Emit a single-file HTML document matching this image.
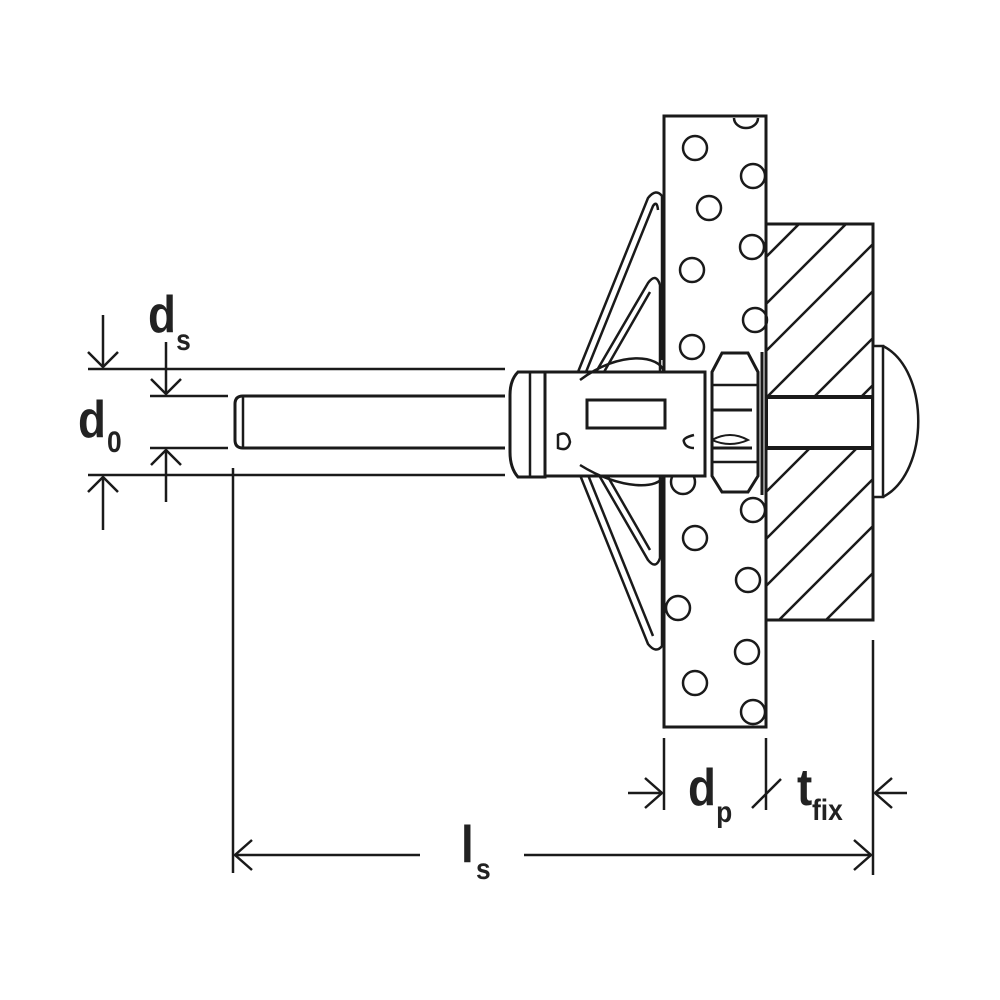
<!DOCTYPE html>
<html><head><style>
html,body{margin:0;padding:0;background:#fff;}
svg{display:block}
text{font-family:"Liberation Sans Narrow","Liberation Sans",sans-serif;font-weight:bold;fill:#222}
</style></head><body>
<svg width="1000" height="1000" viewBox="0 0 1000 1000" xmlns="http://www.w3.org/2000/svg">
<defs>
<clipPath id="hc"><rect x="766" y="224" width="107" height="396"/></clipPath>
</defs>
<g stroke="#1a1a1a" fill="none" stroke-width="3" stroke-linecap="butt">
<rect x="766" y="224" width="107" height="396" fill="#fff"/>
<g clip-path="url(#hc)" stroke-width="2.5">
<line x1="766" y1="116" x2="1000" y2="-118"/>
<line x1="766" y1="163" x2="1000" y2="-71"/>
<line x1="766" y1="210" x2="1000" y2="-24"/>
<line x1="766" y1="257" x2="1000" y2="23"/>
<line x1="766" y1="304" x2="1000" y2="70"/>
<line x1="766" y1="351" x2="1000" y2="117"/>
<line x1="766" y1="398" x2="1000" y2="164"/>
<line x1="766" y1="445" x2="1000" y2="211"/>
<line x1="766" y1="492" x2="1000" y2="258"/>
<line x1="766" y1="539" x2="1000" y2="305"/>
<line x1="766" y1="586" x2="1000" y2="352"/>
<line x1="766" y1="633" x2="1000" y2="399"/>
<line x1="766" y1="680" x2="1000" y2="446"/>
<line x1="766" y1="727" x2="1000" y2="493"/>
<line x1="766" y1="774" x2="1000" y2="540"/>
</g>
<rect x="766" y="397" width="107" height="51" fill="#fff" stroke-width="4"/>
<rect x="873" y="346" width="10" height="151" fill="#fff" stroke-width="2.5"/>
<path d="M883 346 C930 370 930 472 883 497" stroke-width="2.5"/>
<rect x="664" y="116" width="102" height="611" fill="#fff"/>
<g stroke-width="2.5">
<path d="M734 118 A12 10 0 0 0 758 118"/>
<circle cx="695" cy="148" r="12"/>
<circle cx="753" cy="176" r="12"/>
<circle cx="709" cy="208" r="12"/>
<circle cx="752" cy="247" r="12"/>
<circle cx="692" cy="270" r="12"/>
<circle cx="755" cy="320" r="12"/>
<circle cx="692" cy="347" r="12"/>
<circle cx="683" cy="482" r="12"/>
<circle cx="753" cy="510" r="12"/>
<circle cx="695" cy="538" r="12"/>
<circle cx="748" cy="580" r="12"/>
<circle cx="678" cy="608" r="12"/>
<circle cx="747" cy="652" r="12"/>
<circle cx="695" cy="683" r="12"/>
<circle cx="753" cy="712" r="12"/>
</g>
<g stroke-width="2.5">
<path d="M578 372 L648 198 Q656 188 662 196 L662 360"/>
<path d="M586 372 L653 206 Q657 200 658 210"/>
<path d="M596 372 L648 283 Q656 272 660 285 L660 372"/>
<path d="M604 372 L650 292"/>
<path d="M578 470 L648 644 Q656 654 662 646 L662 480"/>
<path d="M586 470 L653 636"/>
<path d="M596 470 L648 560 Q656 570 660 558 L660 470"/>
<path d="M604 470 L650 550"/>
</g>
<path d="M505 396 L243 396 Q235 396 235 404 L235 440 Q235 448 243 448 L505 448" fill="#fff" stroke-width="3"/>
<line x1="243" y1="396" x2="243" y2="448" stroke-width="2.5"/>
<rect x="545" y="372" width="160" height="104" fill="#fff" stroke-width="3"/>
<path d="M545 372 L518 372 Q510 380 510 395 L510 452 Q510 468 518 477 L545 477 Z" fill="#fff"/>
<line x1="530" y1="372" x2="530" y2="477" stroke-width="2.5"/>
<line x1="545" y1="372" x2="545" y2="477" stroke-width="2.5"/>
<path d="M580 380 C620 350 660 355 664 372 M580 465 C620 490 660 490 664 475" stroke-width="2.5"/>
<rect x="587" y="400" width="78" height="28" fill="#fff" stroke-width="3"/>
<path d="M558 435 Q568 430 570 442 Q568 452 558 448 Z" stroke-width="2.5"/>
<path d="M694 435 Q682 438 684 442 Q686 448 694 448" stroke-width="2.5"/>
<path d="M712 372 L722 353 L748 353 L758 372 L758 476 L748 492 L722 492 L712 476 Z" fill="#fff"/>
<line x1="712" y1="385" x2="758" y2="385" stroke-width="2.5"/>
<line x1="712" y1="462" x2="758" y2="462" stroke-width="2.5"/>
<path d="M712 410 L752 410 M712 448 L752 448" stroke-width="3"/>
<path d="M712 440 Q730 430 748 440 Q730 448 712 440" stroke-width="2"/>
<line x1="762" y1="352" x2="762" y2="495" stroke-width="3"/>
<g stroke-width="2.5">
<line x1="88" y1="369" x2="505" y2="369"/>
<line x1="88" y1="475" x2="505" y2="475"/>
<line x1="150" y1="396" x2="228" y2="396"/>
<line x1="150" y1="448" x2="228" y2="448"/>
<line x1="103" y1="315" x2="103" y2="367"/>
<path d="M88 352 L103 367 L118 352"/>
<line x1="103" y1="477" x2="103" y2="530"/>
<path d="M88 492 L103 477 L118 492"/>
<line x1="166" y1="342" x2="166" y2="394"/>
<path d="M151 379 L166 394 L181 379"/>
<line x1="166" y1="450" x2="166" y2="502"/>
<path d="M151 465 L166 450 L181 465"/>
<line x1="233" y1="468" x2="233" y2="873"/>
<line x1="664" y1="738" x2="664" y2="810"/>
<line x1="766" y1="738" x2="766" y2="810"/>
<line x1="873" y1="640" x2="873" y2="875"/>
<line x1="628" y1="793" x2="662" y2="793"/>
<path d="M645 778 L662 793 L645 808"/>
<line x1="752" y1="808" x2="781" y2="779"/>
<line x1="875" y1="793" x2="907" y2="793"/>
<path d="M892 778 L875 793 L892 808"/>
<line x1="235" y1="855" x2="420" y2="855"/>
<line x1="524" y1="855" x2="871" y2="855"/>
<path d="M252 840 L235 855 L252 870"/>
<path d="M854 840 L871 855 L854 870"/>
</g>
</g>
<g transform="translate(148,0) scale(0.88,1)"><text x="0" y="332" font-size="52">d</text><text x="32" y="350" font-size="30">s</text></g>
<g transform="translate(78,0) scale(0.88,1)"><text x="0" y="437" font-size="52">d</text><text x="33" y="452" font-size="30">0</text></g>
<g transform="translate(688,0) scale(0.88,1)"><text x="0" y="805" font-size="52">d</text><text x="32" y="822" font-size="30">p</text></g>
<g transform="translate(797,0) scale(0.88,1)"><text x="0" y="805" font-size="52">t</text><text x="17" y="820" font-size="30">fix</text></g>
<g transform="translate(461,0) scale(0.88,1)"><text x="0" y="862" font-size="52">l</text><text x="17" y="879" font-size="30">s</text></g>
</svg>
</body></html>
